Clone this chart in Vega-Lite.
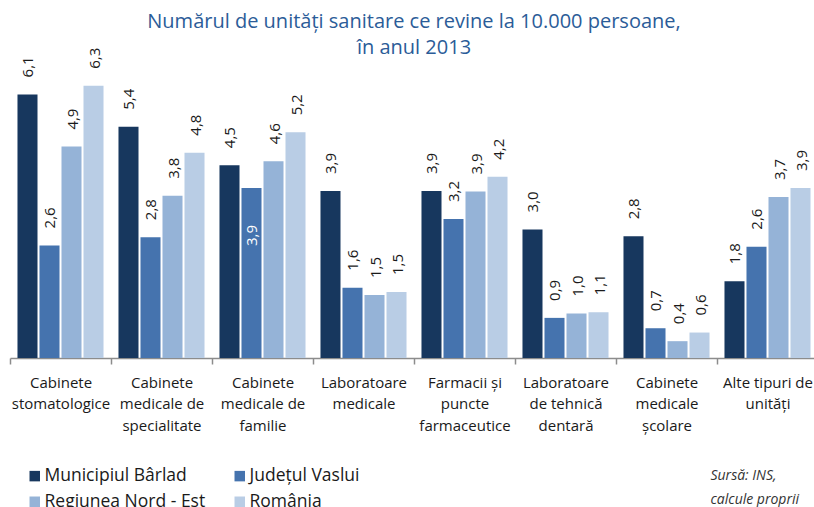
{
  "$schema": "https://vega.github.io/schema/vega-lite/v6.json",
  "width": 808,
  "height": 302,
  "autosize": {"type": "none"},
  "padding": {"left": 10, "top": 56, "right": 0, "bottom": 149},
  "background": "white",
  "config": {
    "view": {"stroke": null},
    "locale": {"number": {"decimal": ",", "thousands": ".", "grouping": [3], "currency": ["", ""]}}
  },
  "title": {
    "text": ["Numărul de unități sanitare ce revine la 10.000 persoane,", "în anul 2013"],
    "font": "Open Sans",
    "fontSize": 20,
    "fontWeight": "normal",
    "color": "#2B5C98",
    "anchor": "middle",
    "lineHeight": 26,
    "offset": -10
  },
  "data": {
    "values": [
      {"categorie": "Cabinete stomatologice", "serie": "Municipiul Bârlad", "valoare": 6.11},
      {"categorie": "Cabinete stomatologice", "serie": "Județul Vaslui", "valoare": 2.61},
      {"categorie": "Cabinete stomatologice", "serie": "Regiunea Nord - Est", "valoare": 4.9},
      {"categorie": "Cabinete stomatologice", "serie": "România", "valoare": 6.31},
      {"categorie": "Cabinete medicale de specialitate", "serie": "Municipiul Bârlad", "valoare": 5.36},
      {"categorie": "Cabinete medicale de specialitate", "serie": "Județul Vaslui", "valoare": 2.8},
      {"categorie": "Cabinete medicale de specialitate", "serie": "Regiunea Nord - Est", "valoare": 3.76},
      {"categorie": "Cabinete medicale de specialitate", "serie": "România", "valoare": 4.76},
      {"categorie": "Cabinete medicale de familie", "serie": "Municipiul Bârlad", "valoare": 4.47},
      {"categorie": "Cabinete medicale de familie", "serie": "Județul Vaslui", "valoare": 3.94},
      {"categorie": "Cabinete medicale de familie", "serie": "Regiunea Nord - Est", "valoare": 4.56},
      {"categorie": "Cabinete medicale de familie", "serie": "România", "valoare": 5.23},
      {"categorie": "Laboratoare medicale", "serie": "Municipiul Bârlad", "valoare": 3.87},
      {"categorie": "Laboratoare medicale", "serie": "Județul Vaslui", "valoare": 1.63},
      {"categorie": "Laboratoare medicale", "serie": "Regiunea Nord - Est", "valoare": 1.46},
      {"categorie": "Laboratoare medicale", "serie": "România", "valoare": 1.53},
      {"categorie": "Farmacii și puncte farmaceutice", "serie": "Municipiul Bârlad", "valoare": 3.87},
      {"categorie": "Farmacii și puncte farmaceutice", "serie": "Județul Vaslui", "valoare": 3.22},
      {"categorie": "Farmacii și puncte farmaceutice", "serie": "Regiunea Nord - Est", "valoare": 3.86},
      {"categorie": "Farmacii și puncte farmaceutice", "serie": "România", "valoare": 4.2},
      {"categorie": "Laboratoare de tehnică dentară", "serie": "Municipiul Bârlad", "valoare": 2.98},
      {"categorie": "Laboratoare de tehnică dentară", "serie": "Județul Vaslui", "valoare": 0.93},
      {"categorie": "Laboratoare de tehnică dentară", "serie": "Regiunea Nord - Est", "valoare": 1.03},
      {"categorie": "Laboratoare de tehnică dentară", "serie": "România", "valoare": 1.06},
      {"categorie": "Cabinete medicale școlare", "serie": "Municipiul Bârlad", "valoare": 2.82},
      {"categorie": "Cabinete medicale școlare", "serie": "Județul Vaslui", "valoare": 0.69},
      {"categorie": "Cabinete medicale școlare", "serie": "Regiunea Nord - Est", "valoare": 0.39},
      {"categorie": "Cabinete medicale școlare", "serie": "România", "valoare": 0.59},
      {"categorie": "Alte tipuri de unități", "serie": "Municipiul Bârlad", "valoare": 1.78},
      {"categorie": "Alte tipuri de unități", "serie": "Județul Vaslui", "valoare": 2.58},
      {"categorie": "Alte tipuri de unități", "serie": "Regiunea Nord - Est", "valoare": 3.73},
      {"categorie": "Alte tipuri de unități", "serie": "România", "valoare": 3.94}
    ]
  },
  "encoding": {
    "x": {
      "field": "categorie",
      "type": "nominal",
      "sort": ["Cabinete stomatologice", "Cabinete medicale de specialitate", "Cabinete medicale de familie", "Laboratoare medicale", "Farmacii și puncte farmaceutice", "Laboratoare de tehnică dentară", "Cabinete medicale școlare", "Alte tipuri de unități"],
      "scale": {"paddingInner": 0, "paddingOuter": 0},
      "axis": {
        "title": ["Sursă: INS,", "calcule proprii"],
        "titleFont": "Open Sans",
        "titleFontStyle": "italic",
        "titleFontWeight": "normal",
        "titleFontSize": 14,
        "titleColor": "#333333",
        "titleX": 700,
        "titleY": 110,
        "titleAlign": "left",
        "titleBaseline": "top",
        "titleLineHeight": 24,
        "labelAngle": 0,
        "labelExpr": "datum.value == 'Cabinete stomatologice' ? ['Cabinete', 'stomatologice'] : datum.value == 'Cabinete medicale de specialitate' ? ['Cabinete', 'medicale de', 'specialitate'] : datum.value == 'Cabinete medicale de familie' ? ['Cabinete', 'medicale de', 'familie'] : datum.value == 'Laboratoare medicale' ? ['Laboratoare', 'medicale'] : datum.value == 'Farmacii și puncte farmaceutice' ? ['Farmacii și', 'puncte', 'farmaceutice'] : datum.value == 'Laboratoare de tehnică dentară' ? ['Laboratoare', 'de tehnică', 'dentară'] : datum.value == 'Cabinete medicale școlare' ? ['Cabinete', 'medicale', 'școlare'] : datum.value == 'Alte tipuri de unități' ? ['Alte tipuri de', 'unități'] : ''",
        "labelFont": "Open Sans",
        "labelFontSize": 15,
        "labelColor": "#1a1a1a",
        "labelLineHeight": 21.5,
        "labelPadding": 11,
        "labelBaseline": "top",
        "labelLimit": 0,
        "labelOverlap": false,
        "labelBound": false,
        "domainColor": "#8c8c8c",
        "domainWidth": 1.5,
        "tickColor": "#8c8c8c",
        "tickWidth": 1.5,
        "tickSize": 6,
        "tickBand": "extent"
      }
    },
    "xOffset": {
      "field": "serie",
      "type": "nominal",
      "sort": ["Municipiul Bârlad", "Județul Vaslui", "Regiunea Nord - Est", "România"],
      "scale": {"paddingInner": 0.09, "paddingOuter": 0.34}
    },
    "y": {
      "field": "valoare",
      "type": "quantitative",
      "scale": {"domain": [0, 7]},
      "axis": null
    }
  },
  "layer": [
    {
      "mark": {"type": "bar"},
      "encoding": {
        "color": {
          "field": "serie",
          "type": "nominal",
          "scale": {
            "domain": ["Municipiul Bârlad", "Regiunea Nord - Est", "Județul Vaslui", "România"],
            "range": ["#17375E", "#95B3D7", "#4573AE", "#B9CDE5"]
          },
          "legend": {
            "title": null,
            "orient": "none",
            "legendX": 16,
            "legendY": 411,
            "columns": 2,
            "columnPadding": 25,
            "rowPadding": 7,
            "symbolType": "square",
            "symbolSize": 110,
            "symbolStrokeWidth": 0,
            "labelFont": "Open Sans",
            "labelFontSize": 17.5,
            "labelColor": "#1a1a1a",
            "labelOffset": 1,
            "labelLimit": 0
          }
        }
      }
    },
    {
      "transform": [{"filter": "!(datum.categorie == 'Cabinete medicale de familie' && datum.serie == 'Județul Vaslui')"}],
      "mark": {"type": "text", "angle": 270, "align": "left", "baseline": "middle", "dx": 17, "dy": 1, "font": "Open Sans", "fontSize": 15, "color": "#1a1a1a"},
      "encoding": {"text": {"field": "valoare", "type": "quantitative", "format": ".1f"}}
    },
    {
      "transform": [{"filter": "datum.categorie == 'Cabinete medicale de familie' && datum.serie == 'Județul Vaslui'"}],
      "mark": {"type": "text", "angle": 270, "align": "right", "baseline": "middle", "dx": -37, "dy": 1, "font": "Open Sans", "fontSize": 15, "color": "white"},
      "encoding": {"text": {"field": "valoare", "type": "quantitative", "format": ".1f"}}
    }
  ]
}
